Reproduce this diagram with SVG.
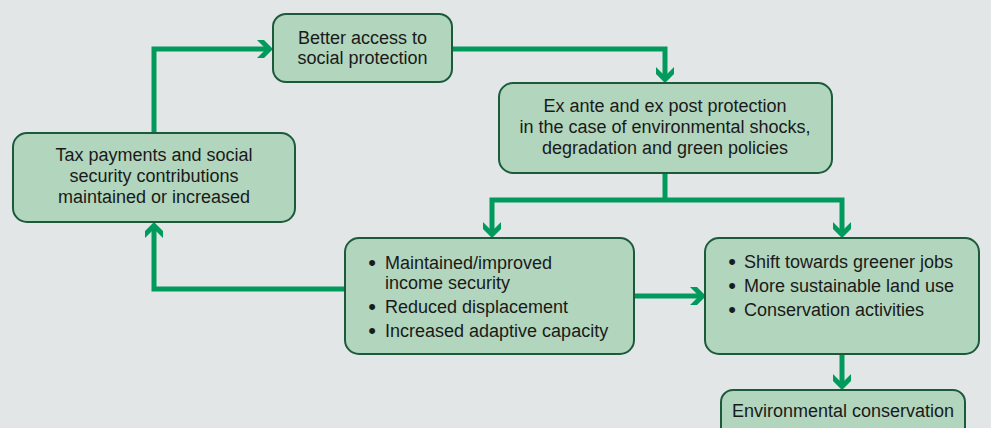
<svg xmlns="http://www.w3.org/2000/svg" width="991" height="428" viewBox="0 0 991 428">
<style>
.box{fill:#b2d5bd;stroke:#1c5a3c;stroke-width:2}
.t{font-family:"Liberation Sans",Arial,sans-serif;font-size:18px;fill:#1a1a1a}
.c{text-anchor:middle}
.b{font-size:22px}
.con{fill:none;stroke:#009a5c;stroke-width:5}
.arr{marker-end:url(#ah)}
</style>
<defs>
<marker id="ah" markerUnits="userSpaceOnUse" viewBox="-10 -10 18 20" markerWidth="18" markerHeight="20" refX="0" refY="0" orient="auto">
<polygon points="7,0 -2,-9 -9,-9 0,0 -9,9 -2,9" fill="#009a5c"/>
</marker>
</defs>
<rect width="991" height="428" fill="#e2e6e6"/>
<g id="connectors">
<path class="con arr" d="M154,133 V49 H266"/>
<path class="con arr" d="M452,49 H665 V76"/>
<path class="con" d="M665,173 V200"/>
<path class="con arr" d="M665,200 H492 V231"/>
<path class="con arr" d="M665,200 H842 V231"/>
<path class="con arr" d="M345,289 H154 V229"/>
<path class="con arr" d="M634,296 H699"/>
<path class="con arr" d="M842,354 V383"/>
</g>
<g id="better-access">
<rect class="box" x="273" y="14" width="179" height="68" rx="13"/>
<text class="t c" x="362.5" y="44">Better access to</text>
<text class="t c" x="362.5" y="64">social protection</text>
</g>
<g id="ex-ante">
<rect class="box" x="499" y="83" width="333" height="90" rx="14"/>
<text class="t c" x="665" y="112">Ex ante and ex post protection</text>
<text class="t c" x="665" y="133">in the case of environmental shocks,</text>
<text class="t c" x="665" y="154">degradation and green policies</text>
</g>
<g id="tax">
<rect class="box" x="13" y="133" width="282" height="89" rx="14"/>
<text class="t c" x="154" y="161">Tax payments and social</text>
<text class="t c" x="154" y="182">security contributions</text>
<text class="t c" x="154" y="203">maintained or increased</text>
</g>
<g id="income">
<rect class="box" x="345" y="238" width="289" height="116" rx="14"/>
<text class="t c b" x="372" y="270">•</text>
<text class="t" x="385" y="269">Maintained/improved</text>
<text class="t" x="385" y="289">income security</text>
<text class="t c b" x="372" y="314">•</text>
<text class="t" x="385" y="313">Reduced displacement</text>
<text class="t c b" x="372" y="338">•</text>
<text class="t" x="385" y="337">Increased adaptive capacity</text>
</g>
<g id="greener">
<rect class="box" x="705" y="238" width="274" height="116" rx="14"/>
<text class="t c b" x="732" y="269">•</text>
<text class="t" x="744" y="268">Shift towards greener jobs</text>
<text class="t c b" x="732" y="293">•</text>
<text class="t" x="744" y="292">More sustainable land use</text>
<text class="t c b" x="732" y="317">•</text>
<text class="t" x="744" y="316">Conservation activities</text>
</g>
<g id="env-conservation">
<rect class="box" x="721" y="390" width="244" height="60" rx="12"/>
<text class="t c" x="843" y="417">Environmental conservation</text>
</g>
</svg>
